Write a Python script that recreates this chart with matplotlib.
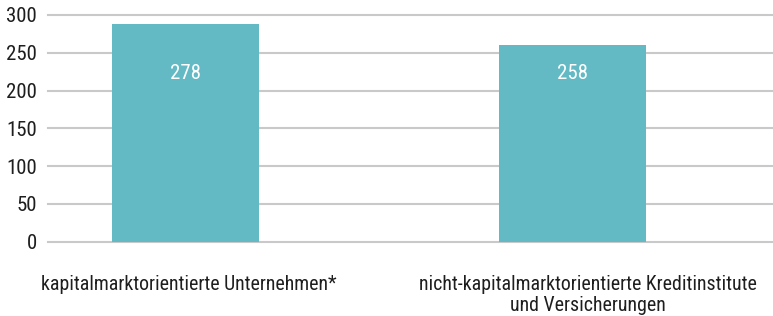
import matplotlib

matplotlib.use("Agg")
import matplotlib.pyplot as plt
import matplotlib.transforms as mtransforms
from matplotlib import font_manager

categories = [
    "kapitalmarktorientierte Unternehmen*",
    "nicht-kapitalmarktorientierte Kreditinstitute\nund Versicherungen",
]
bar_heights = [288, 260]
value_labels = ["278", "258"]
y_ticks = [0, 50, 100, 150, 200, 250, 300]

# pick a narrow/condensed face if one is installed
narrow = None
for f in font_manager.fontManager.ttflist:
    fn = f.fname.lower()
    if ("narrow" in fn or "condensed" in fn) and "bold" not in fn and "italic" not in fn and "oblique" not in fn:
        narrow = f.fname
        if "roboto" in fn or "liberation" in fn:
            break

if narrow:
    prop = font_manager.FontProperties(fname=narrow)
else:
    prop = font_manager.FontProperties(family="DejaVu Sans")

bar_color = "#63bac4"
grid_color = "#c9c9c9"
text_color = "#1e1e1e"

fig = plt.figure(figsize=(7.73, 3.16), dpi=100)
ax = fig.add_axes([48 / 773, (316 - 241.5) / 316, 1 - 48 / 773, (241.5 - 15) / 316])

x = list(range(len(categories)))
ax.bar(x, bar_heights, width=0.38, color=bar_color, zorder=3)
for xi, lab in zip(x, value_labels):
    ax.text(xi, 223, lab, ha="center", va="center", color="white", fontproperties=prop, fontsize=15, zorder=4)

ax.set_xlim(-0.355, 1.518)
ax.set_ylim(0, 300)
ax.set_yticks(y_ticks)
ax.set_yticklabels([str(v) for v in y_ticks], fontproperties=prop, fontsize=15, color=text_color)
for yv in y_ticks:
    ax.axhline(yv, color=grid_color, linewidth=1.5, zorder=0, clip_on=False)
ax.set_xticks(x)
ax.set_xticklabels(categories, fontproperties=prop, fontsize=14.3, color=text_color, linespacing=1.15, va="top")
ax.tick_params(axis="both", length=0)
ax.tick_params(axis="x", pad=24)
ax.tick_params(axis="y", pad=8)
for side in ["top", "right", "left", "bottom"]:
    ax.spines[side].set_visible(False)

# the long second label sits a little right of its bar in the original
shifts = [3, 15]
for lbl, dx in zip(ax.get_xticklabels(), shifts):
    lbl.set_transform(lbl.get_transform() + mtransforms.ScaledTranslation(dx / 100, 0, fig.dpi_scale_trans))

fig.savefig("out.png", dpi=100)
